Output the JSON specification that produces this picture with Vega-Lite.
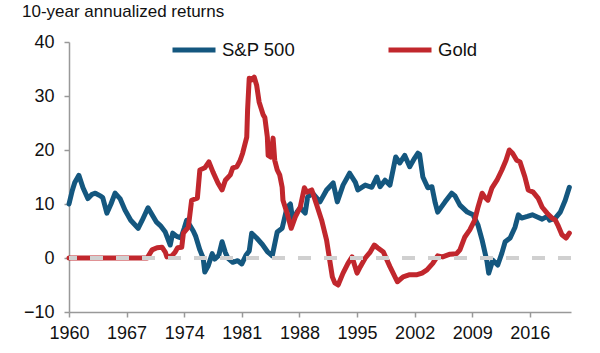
{
  "$schema": "https://vega.github.io/schema/vega-lite/v6.json",
  "width": 502,
  "height": 270,
  "autosize": {"type": "none"},
  "padding": {"left": 69, "top": 42, "right": 29, "bottom": 41},
  "background": "white",
  "config": {
    "view": {"stroke": null},
    "font": "Liberation Sans"
  },
  "title": {
    "text": "10-year annualized returns",
    "anchor": "start",
    "frame": "group",
    "fontSize": 17,
    "fontWeight": "normal",
    "color": "#111",
    "dx": -47,
    "offset": 5
  },
  "data": {
    "values": [
      {"year": 1960.0, "series": "S&P 500", "value": 10.0},
      {"year": 1960.4, "series": "S&P 500", "value": 12.5},
      {"year": 1960.7, "series": "S&P 500", "value": 14.0},
      {"year": 1961.2, "series": "S&P 500", "value": 15.3},
      {"year": 1961.7, "series": "S&P 500", "value": 13.0},
      {"year": 1962.3, "series": "S&P 500", "value": 11.0},
      {"year": 1962.8, "series": "S&P 500", "value": 11.8},
      {"year": 1963.2, "series": "S&P 500", "value": 12.0},
      {"year": 1963.8, "series": "S&P 500", "value": 11.5},
      {"year": 1964.1, "series": "S&P 500", "value": 11.2},
      {"year": 1964.6, "series": "S&P 500", "value": 8.3},
      {"year": 1965.1, "series": "S&P 500", "value": 10.0},
      {"year": 1965.6, "series": "S&P 500", "value": 12.0},
      {"year": 1966.2, "series": "S&P 500", "value": 11.0},
      {"year": 1966.8, "series": "S&P 500", "value": 8.9},
      {"year": 1967.5, "series": "S&P 500", "value": 7.0},
      {"year": 1968.4, "series": "S&P 500", "value": 5.5},
      {"year": 1968.9, "series": "S&P 500", "value": 7.0},
      {"year": 1969.6, "series": "S&P 500", "value": 9.3},
      {"year": 1970.1, "series": "S&P 500", "value": 8.0},
      {"year": 1970.6, "series": "S&P 500", "value": 6.7},
      {"year": 1971.1, "series": "S&P 500", "value": 6.0},
      {"year": 1971.7, "series": "S&P 500", "value": 4.8},
      {"year": 1972.3, "series": "S&P 500", "value": 2.4},
      {"year": 1972.6, "series": "S&P 500", "value": 4.6},
      {"year": 1973.1, "series": "S&P 500", "value": 4.0},
      {"year": 1973.6, "series": "S&P 500", "value": 3.7},
      {"year": 1974.0, "series": "S&P 500", "value": 5.5},
      {"year": 1974.3, "series": "S&P 500", "value": 7.0},
      {"year": 1974.7, "series": "S&P 500", "value": 6.0},
      {"year": 1975.1, "series": "S&P 500", "value": 5.0},
      {"year": 1975.4, "series": "S&P 500", "value": 4.0},
      {"year": 1975.9, "series": "S&P 500", "value": 1.5},
      {"year": 1976.3, "series": "S&P 500", "value": 0.0},
      {"year": 1976.5, "series": "S&P 500", "value": -2.6},
      {"year": 1976.9, "series": "S&P 500", "value": -1.5},
      {"year": 1977.4, "series": "S&P 500", "value": 0.8},
      {"year": 1977.7, "series": "S&P 500", "value": -0.2},
      {"year": 1978.2, "series": "S&P 500", "value": 0.5},
      {"year": 1978.6, "series": "S&P 500", "value": 3.0},
      {"year": 1979.0, "series": "S&P 500", "value": 1.0},
      {"year": 1979.3, "series": "S&P 500", "value": 0.0},
      {"year": 1979.9, "series": "S&P 500", "value": -0.8},
      {"year": 1980.5, "series": "S&P 500", "value": -0.5},
      {"year": 1981.0, "series": "S&P 500", "value": -1.1},
      {"year": 1981.5, "series": "S&P 500", "value": 0.5},
      {"year": 1981.9, "series": "S&P 500", "value": 1.3},
      {"year": 1982.2, "series": "S&P 500", "value": 4.6},
      {"year": 1982.8, "series": "S&P 500", "value": 3.7},
      {"year": 1983.5, "series": "S&P 500", "value": 2.5},
      {"year": 1984.1, "series": "S&P 500", "value": 1.2},
      {"year": 1984.7, "series": "S&P 500", "value": 0.4},
      {"year": 1985.3, "series": "S&P 500", "value": 4.8},
      {"year": 1985.9, "series": "S&P 500", "value": 5.5},
      {"year": 1986.5, "series": "S&P 500", "value": 9.4},
      {"year": 1986.9, "series": "S&P 500", "value": 10.0},
      {"year": 1987.2, "series": "S&P 500", "value": 7.0},
      {"year": 1987.7, "series": "S&P 500", "value": 8.5},
      {"year": 1988.1, "series": "S&P 500", "value": 9.3},
      {"year": 1988.7, "series": "S&P 500", "value": 8.3},
      {"year": 1989.0, "series": "S&P 500", "value": 11.3},
      {"year": 1989.6, "series": "S&P 500", "value": 12.0},
      {"year": 1990.5, "series": "S&P 500", "value": 10.4},
      {"year": 1991.3, "series": "S&P 500", "value": 12.6},
      {"year": 1992.1, "series": "S&P 500", "value": 13.9},
      {"year": 1992.6, "series": "S&P 500", "value": 10.4},
      {"year": 1993.3, "series": "S&P 500", "value": 13.5},
      {"year": 1994.1, "series": "S&P 500", "value": 15.7},
      {"year": 1994.8, "series": "S&P 500", "value": 14.0},
      {"year": 1995.1, "series": "S&P 500", "value": 12.6},
      {"year": 1996.0, "series": "S&P 500", "value": 13.5},
      {"year": 1996.8, "series": "S&P 500", "value": 13.1},
      {"year": 1997.4, "series": "S&P 500", "value": 15.0},
      {"year": 1997.8, "series": "S&P 500", "value": 13.2},
      {"year": 1998.4, "series": "S&P 500", "value": 14.4},
      {"year": 1999.0, "series": "S&P 500", "value": 13.5},
      {"year": 1999.7, "series": "S&P 500", "value": 18.7},
      {"year": 2000.2, "series": "S&P 500", "value": 17.6},
      {"year": 2000.8, "series": "S&P 500", "value": 19.0},
      {"year": 2001.4, "series": "S&P 500", "value": 16.9},
      {"year": 2002.0, "series": "S&P 500", "value": 18.5},
      {"year": 2002.4, "series": "S&P 500", "value": 19.4},
      {"year": 2002.6, "series": "S&P 500", "value": 19.2},
      {"year": 2003.0, "series": "S&P 500", "value": 15.0},
      {"year": 2003.6, "series": "S&P 500", "value": 13.0},
      {"year": 2004.1, "series": "S&P 500", "value": 13.2},
      {"year": 2004.5, "series": "S&P 500", "value": 10.2},
      {"year": 2004.8, "series": "S&P 500", "value": 8.5},
      {"year": 2005.7, "series": "S&P 500", "value": 10.4},
      {"year": 2006.5, "series": "S&P 500", "value": 12.0},
      {"year": 2006.9, "series": "S&P 500", "value": 11.5},
      {"year": 2007.5, "series": "S&P 500", "value": 9.8},
      {"year": 2008.4, "series": "S&P 500", "value": 8.5},
      {"year": 2009.1, "series": "S&P 500", "value": 8.0},
      {"year": 2009.7, "series": "S&P 500", "value": 6.1},
      {"year": 2010.2, "series": "S&P 500", "value": 3.3},
      {"year": 2010.8, "series": "S&P 500", "value": -0.7},
      {"year": 2011.0, "series": "S&P 500", "value": -2.8},
      {"year": 2011.5, "series": "S&P 500", "value": -0.4},
      {"year": 2012.1, "series": "S&P 500", "value": -1.3},
      {"year": 2012.6, "series": "S&P 500", "value": 0.9},
      {"year": 2013.0, "series": "S&P 500", "value": 3.0},
      {"year": 2013.6, "series": "S&P 500", "value": 3.7},
      {"year": 2014.2, "series": "S&P 500", "value": 5.7},
      {"year": 2014.6, "series": "S&P 500", "value": 8.0},
      {"year": 2015.0, "series": "S&P 500", "value": 7.4},
      {"year": 2015.7, "series": "S&P 500", "value": 7.7},
      {"year": 2016.3, "series": "S&P 500", "value": 8.0},
      {"year": 2016.9, "series": "S&P 500", "value": 7.6},
      {"year": 2017.5, "series": "S&P 500", "value": 7.2},
      {"year": 2018.1, "series": "S&P 500", "value": 7.7},
      {"year": 2018.4, "series": "S&P 500", "value": 7.0},
      {"year": 2019.1, "series": "S&P 500", "value": 7.4},
      {"year": 2019.7, "series": "S&P 500", "value": 8.5},
      {"year": 2020.3, "series": "S&P 500", "value": 10.7},
      {"year": 2020.8, "series": "S&P 500", "value": 13.1},
      {"year": 1960.0, "series": "Gold", "value": 0.0},
      {"year": 1969.5, "series": "Gold", "value": 0.0},
      {"year": 1970.1, "series": "Gold", "value": 1.5},
      {"year": 1970.7, "series": "Gold", "value": 1.9},
      {"year": 1971.3, "series": "Gold", "value": 2.0},
      {"year": 1971.7, "series": "Gold", "value": 1.1},
      {"year": 1971.9, "series": "Gold", "value": 0.2},
      {"year": 1972.5, "series": "Gold", "value": 0.4},
      {"year": 1972.9, "series": "Gold", "value": 1.1},
      {"year": 1973.2, "series": "Gold", "value": 1.9},
      {"year": 1973.7, "series": "Gold", "value": 2.0},
      {"year": 1973.9, "series": "Gold", "value": 4.6},
      {"year": 1974.5, "series": "Gold", "value": 5.7},
      {"year": 1974.9, "series": "Gold", "value": 10.7},
      {"year": 1975.6, "series": "Gold", "value": 11.1},
      {"year": 1975.9, "series": "Gold", "value": 16.3},
      {"year": 1976.5, "series": "Gold", "value": 16.7},
      {"year": 1977.0, "series": "Gold", "value": 17.8},
      {"year": 1977.5, "series": "Gold", "value": 15.9},
      {"year": 1978.1, "series": "Gold", "value": 13.9},
      {"year": 1978.6, "series": "Gold", "value": 12.6},
      {"year": 1979.0, "series": "Gold", "value": 14.4},
      {"year": 1979.6, "series": "Gold", "value": 15.4},
      {"year": 1979.9, "series": "Gold", "value": 16.7},
      {"year": 1980.4, "series": "Gold", "value": 16.9},
      {"year": 1980.8, "series": "Gold", "value": 18.1},
      {"year": 1981.1, "series": "Gold", "value": 19.4},
      {"year": 1981.6, "series": "Gold", "value": 22.4},
      {"year": 1981.7, "series": "Gold", "value": 27.4},
      {"year": 1981.9, "series": "Gold", "value": 33.3},
      {"year": 1982.2, "series": "Gold", "value": 33.0},
      {"year": 1982.5, "series": "Gold", "value": 33.5},
      {"year": 1982.8, "series": "Gold", "value": 32.0},
      {"year": 1983.1, "series": "Gold", "value": 28.9},
      {"year": 1983.6, "series": "Gold", "value": 26.5},
      {"year": 1983.8, "series": "Gold", "value": 26.0},
      {"year": 1984.1, "series": "Gold", "value": 22.4},
      {"year": 1984.2, "series": "Gold", "value": 19.0},
      {"year": 1984.5, "series": "Gold", "value": 18.7},
      {"year": 1984.8, "series": "Gold", "value": 22.2},
      {"year": 1985.0, "series": "Gold", "value": 18.1},
      {"year": 1985.3, "series": "Gold", "value": 16.3},
      {"year": 1985.6, "series": "Gold", "value": 15.4},
      {"year": 1985.9, "series": "Gold", "value": 13.1},
      {"year": 1986.0, "series": "Gold", "value": 10.7},
      {"year": 1986.5, "series": "Gold", "value": 8.3},
      {"year": 1987.0, "series": "Gold", "value": 5.5},
      {"year": 1987.5, "series": "Gold", "value": 7.6},
      {"year": 1988.1, "series": "Gold", "value": 9.4},
      {"year": 1988.6, "series": "Gold", "value": 13.0},
      {"year": 1988.9, "series": "Gold", "value": 12.2},
      {"year": 1989.5, "series": "Gold", "value": 12.6},
      {"year": 1990.1, "series": "Gold", "value": 9.8},
      {"year": 1990.7, "series": "Gold", "value": 7.0},
      {"year": 1991.3, "series": "Gold", "value": 3.3},
      {"year": 1992.0, "series": "Gold", "value": -3.5},
      {"year": 1992.3, "series": "Gold", "value": -4.6},
      {"year": 1992.7, "series": "Gold", "value": -5.0},
      {"year": 1993.3, "series": "Gold", "value": -2.8},
      {"year": 1993.9, "series": "Gold", "value": -1.0},
      {"year": 1994.4, "series": "Gold", "value": 0.2},
      {"year": 1995.0, "series": "Gold", "value": -2.8},
      {"year": 1995.4, "series": "Gold", "value": -1.6},
      {"year": 1996.0, "series": "Gold", "value": 0.0},
      {"year": 1996.6, "series": "Gold", "value": 1.1},
      {"year": 1997.1, "series": "Gold", "value": 2.4},
      {"year": 1997.5, "series": "Gold", "value": 1.9},
      {"year": 1998.2, "series": "Gold", "value": 1.1},
      {"year": 1999.0, "series": "Gold", "value": -1.6},
      {"year": 1999.9, "series": "Gold", "value": -4.4},
      {"year": 2000.6, "series": "Gold", "value": -3.5},
      {"year": 2001.4, "series": "Gold", "value": -3.1},
      {"year": 2002.3, "series": "Gold", "value": -3.1},
      {"year": 2002.9, "series": "Gold", "value": -2.8},
      {"year": 2003.5, "series": "Gold", "value": -2.2},
      {"year": 2004.2, "series": "Gold", "value": -1.0},
      {"year": 2004.8, "series": "Gold", "value": 0.4},
      {"year": 2005.4, "series": "Gold", "value": 0.2},
      {"year": 2006.3, "series": "Gold", "value": 0.7},
      {"year": 2007.1, "series": "Gold", "value": 0.8},
      {"year": 2007.5, "series": "Gold", "value": 1.5},
      {"year": 2008.1, "series": "Gold", "value": 3.9},
      {"year": 2008.7, "series": "Gold", "value": 5.2},
      {"year": 2009.3, "series": "Gold", "value": 7.0},
      {"year": 2009.7, "series": "Gold", "value": 9.4},
      {"year": 2010.2, "series": "Gold", "value": 12.0},
      {"year": 2010.5, "series": "Gold", "value": 11.3},
      {"year": 2010.9, "series": "Gold", "value": 10.7},
      {"year": 2011.4, "series": "Gold", "value": 13.0},
      {"year": 2012.0, "series": "Gold", "value": 14.4},
      {"year": 2012.6, "series": "Gold", "value": 16.3},
      {"year": 2013.1, "series": "Gold", "value": 18.1},
      {"year": 2013.5, "series": "Gold", "value": 20.0},
      {"year": 2013.9, "series": "Gold", "value": 19.4},
      {"year": 2014.4, "series": "Gold", "value": 18.1},
      {"year": 2014.8, "series": "Gold", "value": 17.8},
      {"year": 2015.4, "series": "Gold", "value": 15.0},
      {"year": 2015.8, "series": "Gold", "value": 12.6},
      {"year": 2016.4, "series": "Gold", "value": 12.2},
      {"year": 2017.0, "series": "Gold", "value": 11.1},
      {"year": 2017.5, "series": "Gold", "value": 9.4},
      {"year": 2018.1, "series": "Gold", "value": 8.3},
      {"year": 2018.7, "series": "Gold", "value": 7.4},
      {"year": 2019.1, "series": "Gold", "value": 7.0},
      {"year": 2019.4, "series": "Gold", "value": 6.1},
      {"year": 2019.9, "series": "Gold", "value": 4.3},
      {"year": 2020.4, "series": "Gold", "value": 3.7},
      {"year": 2020.8, "series": "Gold", "value": 4.6}
    ]
  },
  "encoding": {
    "x": {
      "field": "year",
      "type": "quantitative",
      "scale": {"domain": [1960, 2021], "nice": false, "zero": false},
      "axis": {
        "title": null,
        "values": [1960, 1967, 1974, 1981, 1988, 1995, 2002, 2009, 2016],
        "format": "d",
        "grid": false,
        "labelFontSize": 18,
        "labelColor": "#111",
        "labelPadding": 7,
        "tickSize": 5,
        "tickColor": "#999",
        "domainColor": "#999",
        "tickWidth": 1.5,
        "domainWidth": 1.5,
        "labelFlush": false
      }
    },
    "y": {
      "field": "value",
      "type": "quantitative",
      "scale": {"domain": [-10, 40], "nice": false},
      "axis": {
        "title": null,
        "values": [-10, 0, 10, 20, 30, 40],
        "grid": false,
        "labelFontSize": 18,
        "labelColor": "#111",
        "labelPadding": 10,
        "tickSize": 5,
        "tickColor": "#999",
        "domainColor": "#999",
        "tickWidth": 1.5,
        "domainWidth": 1.5
      }
    }
  },
  "layer": [
    {
      "mark": {"type": "line", "strokeWidth": 5, "strokeJoin": "round", "strokeCap": "round"},
      "encoding": {
        "color": {
          "field": "series",
          "type": "nominal",
          "scale": {"domain": ["S&P 500", "Gold"], "range": ["#14577f", "#c1272d"]},
          "legend": {
            "title": null,
            "orient": "none",
            "direction": "horizontal",
            "legendX": 101,
            "legendY": -16,
            "padding": 0,
            "symbolType": "stroke",
            "symbolSize": 1849,
            "symbolStrokeWidth": 5,
            "labelFontSize": 18.5,
            "labelColor": "#111",
            "labelOffset": 4,
            "columnPadding": 82
          }
        }
      }
    },
    {
      "mark": {"type": "rule", "color": "#d0d0d0", "strokeWidth": 4, "strokeDash": [13, 13]},
      "encoding": {"y": {"datum": 0}, "x": null}
    }
  ]
}
